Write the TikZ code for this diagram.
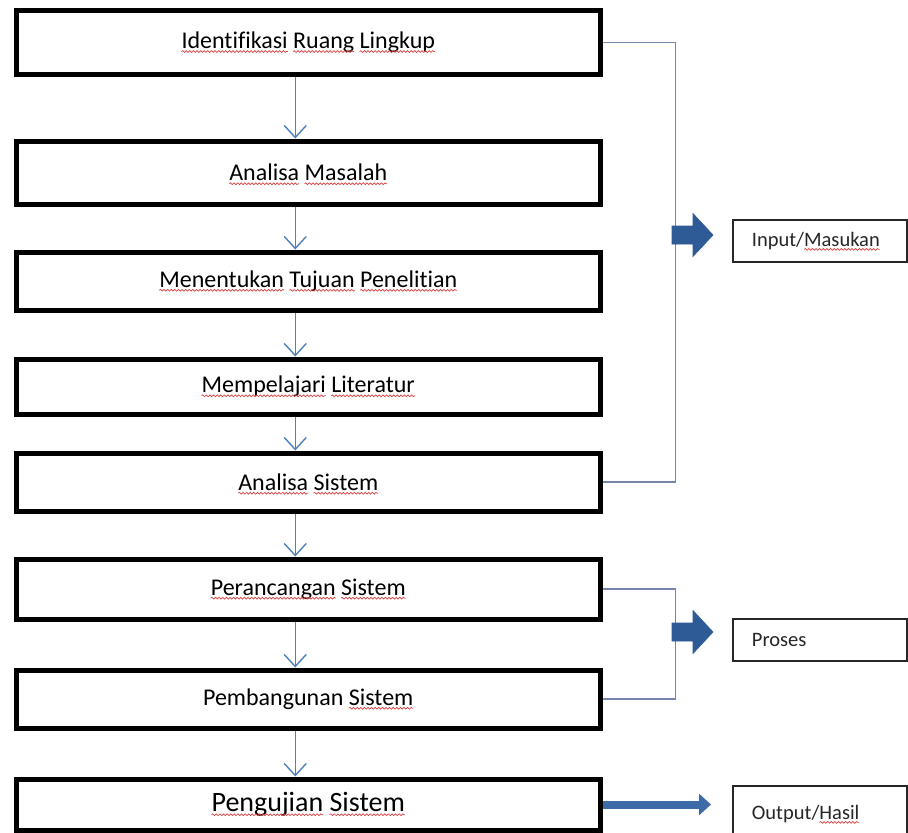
\documentclass[tikz,border=0pt]{standalone}
\usepackage{fontspec}
\setmainfont{Carlito}[Ligatures={NoCommon}]
\usetikzlibrary{arrows.meta,decorations.pathmorphing}

\definecolor{flowblue}{HTML}{4F81BD}
\definecolor{bracketgray}{HTML}{7585AA}
\definecolor{blockdark}{HTML}{2E5A96}
\definecolor{blocklight}{HTML}{5E90D4}
\definecolor{outblue}{HTML}{3D6BA8}
\definecolor{squigred}{HTML}{E04040}
\definecolor{sidetext}{HTML}{262626}

% red wavy spell-check underline under a word
\newlength\sqw
\newcommand\sq[1]{\settowidth\sqw{#1}#1\tikz[overlay,baseline=0pt]{\draw[squig] (-\sqw,-3pt) -- (0pt,-3pt);}}

\begin{document}
\begin{tikzpicture}[x=1pt,y=-1pt,
  squig/.style={draw=squigred, line width=0.7pt, decorate,
    decoration={snake, amplitude=0.9pt, segment length=3.6pt}},
  stage/.style={draw=black, line width=5pt, minimum width=583.5pt,
    inner sep=0pt, font=\fontsize{24}{28}\selectfont, text=black},
  flow/.style={draw=flowblue, line width=1.4pt,
    -{Straight Barb[length=12pt, width=22pt]}},
  bracket/.style={draw=bracketgray, line width=1.4pt},
  sidebox/.style={draw=black!85, line width=1.8pt, anchor=north west,
    text width=136pt, inner xsep=19pt, inner ysep=0pt, align=left,
    font=\fontsize{20.5}{24}\selectfont, text=sidetext},
  outarrow/.style={draw=outblue, line width=8pt,
    -{Triangle[length=12pt, width=21pt]}, shorten >=21pt},
  blockarrow/.pic={
    \shadedraw[top color=blockdark, middle color=blocklight,
      bottom color=blockdark, draw=blockdark, line width=0.6pt]
      (0,-9) -- (21,-9) -- (21,-21.5) -- (41,0) -- (21,21.5)
      -- (21,9) -- (0,9) -- cycle;}
]
\useasboundingbox (0,0) rectangle (908,833);
\clip (0,0) rectangle (908,833);
\fill[white] (0,0) rectangle (908,833);

% main stages
\node[stage, minimum height=64.5pt] (b1) at (308.25,42.25)
  {\sq{Identifikasi} \sq{Ruang} \sq{Lingkup}};
\node[stage, minimum height=63pt] (b2) at (308.25,172.5)
  {\sq{Analisa} \sq{Masalah}};
\node[stage, minimum height=58pt] (b3) at (308.25,281)
  {\sq{Menentukan} \sq{Tujuan} \sq{Penelitian}};
\node[stage, minimum height=55pt] (b4) at (308.25,386.5)
  {\sq{Mempelajari} \sq{Literatur}};
\node[stage, minimum height=58pt] (b5) at (308.25,482)
  {\sq{Analisa} \sq{Sistem}};
\node[stage, minimum height=60pt] (b6) at (308.25,589)
  {\sq{Perancangan} \sq{Sistem}};
\node[stage, minimum height=58pt] (b7) at (308.25,699)
  {Pembangunan \sq{Sistem}};
\node[stage, minimum height=51pt, font=\fontsize{28}{32}\selectfont] (b8) at (308.25,804.5)
  {\sq{Pengujian} \sq{Sistem}};

% flow arrows between stages
\foreach \a/\b in {b1/b2,b2/b3,b3/b4,b4/b5,b5/b6,b6/b7,b7/b8}
  \draw[flow] ([xshift=-13pt]\a.south) -- ([xshift=-13pt]\b.north);

% side categories
\node[sidebox, minimum height=42pt] (inbox) at (732,219) {Input/\sq{Masukan}};
\node[sidebox, minimum height=42pt] (procbox) at (732,618) {Proses};
\node[sidebox, minimum height=56pt] (outbox) at (732,785) {Output/\sq{Hasil}};

% brackets grouping the stages
\draw[bracket] (b1.east) -- ++(73,0) |- (b5.east);
\draw[bracket] (b6.east) -- ++(73,0) |- (b7.east);

% block arrows pointing to the categories
\pic at (672,235) {blockarrow};
\pic at (672,632) {blockarrow};

% output arrow
\draw[outarrow] (b8.east) -- (b8.east -| outbox.west);
\end{tikzpicture}
\end{document}
